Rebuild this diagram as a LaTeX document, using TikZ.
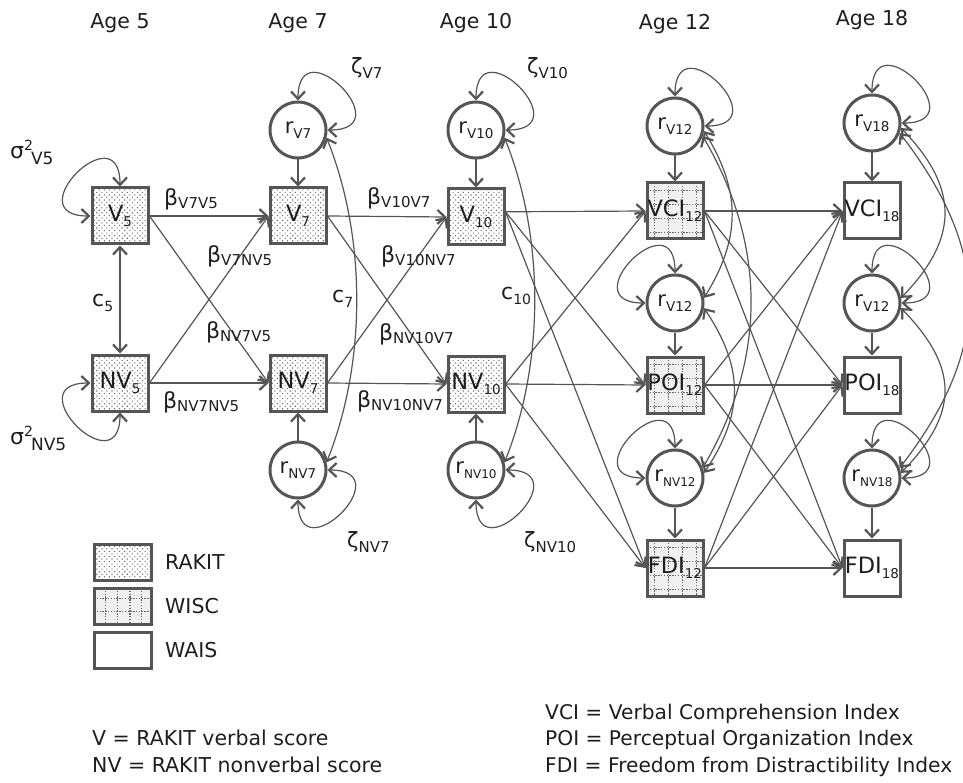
\documentclass[tikz,border=0pt]{standalone}
\usepackage{fontspec}
\setmainfont{DejaVu Sans}
\usetikzlibrary{arrows.meta,patterns.meta,calc}
\definecolor{ln}{HTML}{555555}
\definecolor{tx}{HTML}{1E1E1E}
\newcommand\sbs[3]{\raisebox{-#1}{\fontsize{#2}{#2}\selectfont #3}}
\newcommand\spx[3]{\raisebox{#1}{\fontsize{#2}{#2}\selectfont #3}}
\newcommand\bet[1]{{\fontsize{22}{22}\selectfont β}\sbs{3pt}{15}{#1}}
\newcommand\zet[1]{{\fontsize{21}{21}\selectfont ζ}\sbs{5pt}{15}{#1}}
\newcommand\cco[1]{{\fontsize{22}{22}\selectfont c}\sbs{5pt}{14}{#1}}
\newcommand\sig[1]{{\fontsize{22}{22}\selectfont σ}\spx{8pt}{14}{2}\hspace{-2pt}\sbs{6pt}{17}{#1}}
\begin{document}
\begin{tikzpicture}[x=1pt,y=-1pt,
  >={Straight Barb[length=7.5pt,width=14pt,line width=1pt 1]},
  every node/.style={text=tx},
  conn/.style={draw=ln,line width=1.2pt,->},
  dconn/.style={draw=ln,line width=1.2pt,<->},
  lab/.style={inner sep=0pt},
  txt/.style={inner sep=0pt,font=\fontsize{20.5}{24}\selectfont},
  txtr/.style={inner sep=0pt,font=\fontsize{20.2}{24}\selectfont},
  boxbase/.style={draw=ln,line width=3pt,minimum size=56pt,inner sep=0pt,font=\fontsize{22.5}{22.5}\selectfont},
  rakit/.style={boxbase,pattern={Dots[distance=3.6pt,radius=0.8pt,angle=45]},pattern color=black!55},
  wisc/.style={boxbase,fill=black!6,path picture={
    \foreach \f in {0.13,0.38,0.63,0.88}{
      \draw[black!60,line width=1.3pt,dash pattern=on 1.3pt off 1.5pt]
        ($(path picture bounding box.north west)!\f!(path picture bounding box.north east)$) --
        ($(path picture bounding box.south west)!\f!(path picture bounding box.south east)$);
      \draw[black!60,line width=1.3pt,dash pattern=on 1.3pt off 1.5pt]
        ($(path picture bounding box.north west)!\f!(path picture bounding box.south west)$) --
        ($(path picture bounding box.north east)!\f!(path picture bounding box.south east)$);
    }}},
  wiscL/.style={boxbase,fill=black!6,path picture={
    \foreach \f in {0.2,0.41,0.63,0.83}{
      \draw[black!60,line width=1.3pt,dash pattern=on 1.3pt off 1.5pt]
        ($(path picture bounding box.north west)!\f!(path picture bounding box.north east)$) --
        ($(path picture bounding box.south west)!\f!(path picture bounding box.south east)$);
    }
    \foreach \f in {0.3,0.66}{
      \draw[black!60,line width=1.3pt,dash pattern=on 1.3pt off 1.5pt]
        ($(path picture bounding box.north west)!\f!(path picture bounding box.south west)$) --
        ($(path picture bounding box.north east)!\f!(path picture bounding box.south east)$);
    }}},
  wais/.style={boxbase,fill=white},
  circ/.style={circle,draw=ln,line width=3pt,minimum size=56pt,inner sep=0pt,fill=white,font=\fontsize{21}{21}\selectfont}
]
\useasboundingbox (0,0) rectangle (963,783);

% age labels
\node[txt,anchor=base] (a5) at (120,29) {Age 5};
\node[txt,anchor=base] (a7) at (298,29) {Age 7};
\node[txt,anchor=base] (a10) at (476,29) {Age 10};
\node[txt,anchor=base] (a12) at (675,30) {Age 12};
\node[txt,anchor=base] (a18) at (872,26) {Age 18};

% RAKIT boxes
\node[rakit] (V5) at (120,216) {V\sbs{5pt}{13.5}{5}};
\node[rakit] (NV5) at (120,383) {NV\sbs{5pt}{13.5}{5}};
\node[rakit] (V7) at (298,216) {V\sbs{5pt}{13.5}{7}};
\node[rakit] (NV7) at (298,383) {NV\sbs{5pt}{13.5}{7}};
\node[rakit] (V10) at (476,217) {V\sbs{5pt}{13.5}{10}};
\node[rakit] (NV10) at (476,384) {NV\sbs{5pt}{13.5}{10}};
% residual circles
\node[circ] (rV7) at (298,130) {r\sbs{5pt}{13.5}{V7}};
\node[circ] (rNV7) at (298,470) {r\sbs{5pt}{13.5}{NV7}};
\node[circ] (rV10) at (476,130) {r\sbs{5pt}{13.5}{V10}};
\node[circ] (rNV10) at (476,470) {r\sbs{5pt}{12}{NV10}};
% age 12
\node[circ] (rVa) at (675,126) {r\sbs{5pt}{13.5}{V12}};
\node[wisc] (VCI12) at (675,211) {VCI\sbs{5pt}{13.5}{12}};
\node[circ] (rVb) at (675,303) {r\sbs{5pt}{13.5}{V12}};
\node[wisc] (POI12) at (675,385) {POI\sbs{5pt}{13.5}{12}};
\node[circ] (rNVc) at (675,478) {r\sbs{5pt}{12}{NV12}};
\node[wisc] (FDI12) at (675,568) {FDI\sbs{5pt}{13.5}{12}};
% age 18
\node[circ] (rV18) at (872,123) {r\sbs{5pt}{13.5}{V18}};
\node[wais] (VCI18) at (872,211) {VCI\sbs{5pt}{13.5}{18}};
\node[circ] (rVd) at (872,303) {r\sbs{5pt}{13.5}{V12}};
\node[wais] (POI18) at (872,385) {POI\sbs{5pt}{13.5}{18}};
\node[circ] (rNV18) at (872,478) {r\sbs{5pt}{12}{NV18}};
\node[wais] (FDI18) at (872,568) {FDI\sbs{5pt}{13.5}{18}};

% variances / covariance at age 5
\draw[dconn] (V5.west) .. controls +(-75,0) and +(0,-75) .. (V5.north);
\draw[dconn] (NV5.west) .. controls +(-75,0) and +(0,75) .. (NV5.south);
\draw[dconn] (V5.south) -- (NV5.north);

% regressions 5 -> 7
\draw[conn] (V5.east) -- (V7.west);
\draw[conn] (V5.east) -- (NV7.west);
\draw[conn] (NV5.east) -- (V7.west);
\draw[conn] (NV5.east) -- (NV7.west);
% regressions 7 -> 10
\draw[conn] (V7.east) -- (V10.west);
\draw[conn] (V7.east) -- (NV10.west);
\draw[conn] (NV7.east) -- (V10.west);
\draw[conn] (NV7.east) -- (NV10.west);
% residual arrows
\draw[conn] (rV7.south) -- (V7.north);
\draw[conn] (rNV7.north) -- (NV7.south);
\draw[conn] (rV10.south) -- (V10.north);
\draw[conn] (rNV10.north) -- (NV10.south);
% residual loops
\draw[dconn] (rV7.north) .. controls +(0,-75) and +(75,0) .. (rV7.east);
\draw[dconn] (rNV7.south) .. controls +(0,75) and +(75,0) .. (rNV7.east);
\draw[dconn] (rV10.north) .. controls +(0,-75) and +(75,0) .. (rV10.east);
\draw[dconn] (rNV10.south) .. controls +(0,75) and +(75,0) .. (rNV10.east);
% residual covariances
\draw[dconn] (rV7.-15) .. controls +(40,100) and +(40,-100) .. (rNV7.15);
\draw[dconn] (rV10.-15) .. controls +(40,100) and +(40,-100) .. (rNV10.15);

% regressions 10 -> 12
\foreach \t in {VCI12,POI12,FDI12}{
  \draw[conn] (V10.10) -- (\t.west);
  \draw[conn] (NV10.east) -- (\t.west);
}
% regressions 12 -> 18
\foreach \s in {VCI12,POI12,FDI12}{
  \foreach \t in {VCI18,POI18,FDI18}{
    \draw[conn] (\s.east) -- (\t.west);
  }
}
% residual arrows 12, 18
\draw[conn] (rVa.south) -- (VCI12.north);
\draw[conn] (rVb.south) -- (POI12.north);
\draw[conn] (rNVc.south) -- (FDI12.north);
\draw[conn] (rV18.south) -- (VCI18.north);
\draw[conn] (rVd.south) -- (POI18.north);
\draw[conn] (rNV18.south) -- (FDI18.north);
% loops 12
\draw[dconn] (rVa.north) .. controls +(0,-75) and +(75,0) .. (rVa.east);
\draw[dconn] (rVb.north) .. controls +(0,-75) and +(-75,0) .. (rVb.west);
\draw[dconn] (rNVc.north) .. controls +(0,-75) and +(-75,0) .. (rNVc.west);
% loops 18
\draw[dconn] (rV18.north) .. controls +(0,-75) and +(75,0) .. (rV18.east);
\draw[dconn] (rVd.north) .. controls +(0,-75) and +(75,0) .. (rVd.east);
\draw[dconn] (rNV18.north) .. controls +(0,-75) and +(75,0) .. (rNV18.east);
% covariances 12
\draw[dconn] (rVa.-10) .. controls +(37,60) and +(37,-60) .. (rVb.10);
\draw[dconn] (rVa.-20) .. controls +(64,110) and +(64,-110) .. (rNVc.20);
\draw[dconn] (rVb.-10) .. controls +(40,60) and +(40,-60) .. (rNVc.10);
% covariances 18
\draw[dconn] (rV18.-10) .. controls +(58,60) and +(58,-60) .. (rVd.10);
\draw[dconn] (rV18.-20) .. controls +(92,120) and +(92,-120) .. (rNV18.20);
\draw[dconn] (rVd.-10) .. controls +(58,60) and +(58,-60) .. (rNV18.10);

% parameter labels
\node[lab,anchor=base west] (sV5) at (10,159) {\sig{V5}};
\node[lab,anchor=base west] (sNV5) at (10,444) {\sig{NV5}};
\node[lab,anchor=base west] (c5) at (92,307) {\cco{5}};
\node[lab,anchor=base west] (c7) at (332,303) {\cco{7}};
\node[lab,anchor=base west] (c10) at (501,300) {\cco{10}};
\node[lab,anchor=base west] (bV7V5) at (164,206) {\bet{V7V5}};
\node[lab,anchor=base west] (bV7NV5) at (207,263) {\bet{V7NV5}};
\node[lab,anchor=base west] (bNV7V5) at (206,338) {\bet{NV7V5}};
\node[lab,anchor=base west] (bNV7NV5) at (163,408) {\bet{NV7NV5}};
\node[lab,anchor=base west] (bV10V7) at (367,205) {\bet{V10V7}};
\node[lab,anchor=base west] (bV10NV7) at (381,263) {\bet{V10NV7}};
\node[lab,anchor=base west] (bNV10V7) at (379,340) {\bet{NV10V7}};
\node[lab,anchor=base west] (bNV10NV7) at (357,407) {\bet{NV10NV7}};
\node[lab,anchor=base west] (zV7) at (351,74) {\zet{V7}};
\node[lab,anchor=base west] (zV10) at (527,74) {\zet{V10}};
\node[lab,anchor=base west] (zNV7) at (347,547) {\zet{NV7}};
\node[lab,anchor=base west] (zNV10) at (524,547) {\zet{NV10}};

% legend
\node[rakit,minimum width=57pt,minimum height=36pt] (lR) at (122.5,562) {};
\node[wiscL,minimum width=57pt,minimum height=36pt] (lW) at (122.5,606) {};
\node[wais,minimum width=57pt,minimum height=36pt] (lA) at (122.5,650) {};
\node[txt,anchor=base west] (tR) at (165,569.5) {RAKIT};
\node[txt,anchor=base west] (tW) at (165,613.5) {WISC};
\node[txt,anchor=base west] (tA) at (165,657.5) {WAIS};

% footnotes
\node[txt,anchor=base west] (fV) at (92,745) {V = RAKIT verbal score};
\node[txt,anchor=base west] (fNV) at (92,772) {NV = RAKIT nonverbal score};
\node[txtr,anchor=base west] (fVCI) at (545,719) {VCI = Verbal Comprehension Index};
\node[txtr,anchor=base west] (fPOI) at (545,745) {POI = Perceptual Organization Index};
\node[txtr,anchor=base west] (fFDI) at (545,772) {FDI = Freedom from Distractibility Index};
\end{tikzpicture}
\end{document}
